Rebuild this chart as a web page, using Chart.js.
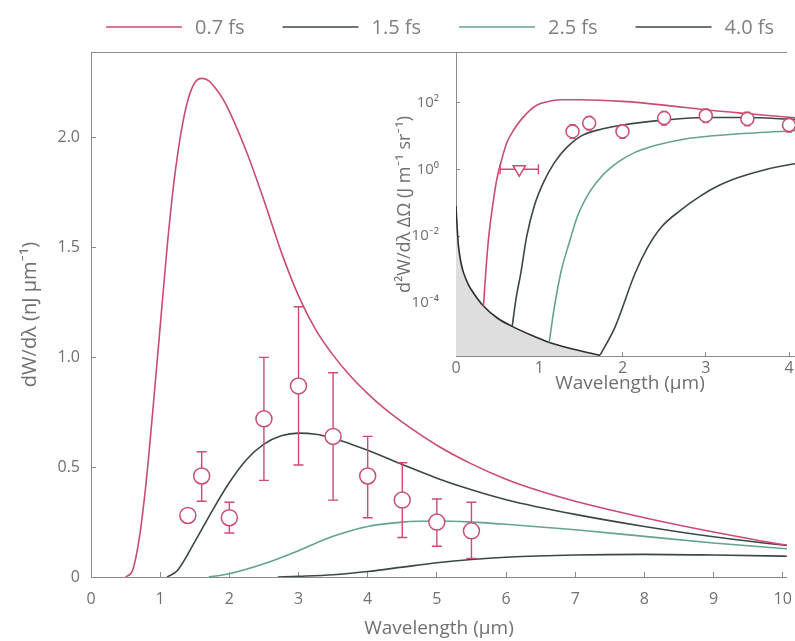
<!DOCTYPE html>
<html>
<head>
<meta charset="utf-8">
<script src="https://cdn.jsdelivr.net/npm/chart.js@4.4.1/dist/chart.umd.min.js"></script>
<style>
  html, body { margin: 0; padding: 0; background: #fff; overflow: hidden; }
  #page { position: relative; width: 795px; height: 641px; overflow: hidden; }
  #main { position: absolute; left: 0; top: 0; }
  #inset { position: absolute; left: 380px; top: 40px; }
</style>
</head>
<body>
<div id="page">
  <canvas id="main" width="810" height="641"></canvas>
  <canvas id="inset" width="440" height="360"></canvas>
</div>
<script>
// ---- main panel: dW/dλ (nJ µm^-1) against wavelength (µm) ----
const seriesLabels = ['0.7 fs', '1.5 fs', '2.5 fs', '4.0 fs'];

const wl07 = [0.5, 0.6, 0.7, 0.8, 0.9, 1.0, 1.1, 1.2, 1.3, 1.4, 1.5, 1.6, 1.7, 1.8, 1.9, 2.0, 2.25, 2.5, 2.75, 3.0, 3.25, 3.5, 3.75, 4.0, 4.25, 4.5, 5.0, 5.5, 6.0, 6.5, 7.0, 8.0, 9.0, 10.0, 10.5];
const dw07 = [0, 0.03, 0.18, 0.44, 0.78, 1.14, 1.50, 1.80, 2.02, 2.17, 2.25, 2.27, 2.26, 2.225, 2.18, 2.12, 1.935, 1.715, 1.48, 1.28, 1.125, 1.01, 0.915, 0.835, 0.765, 0.705, 0.60, 0.515, 0.445, 0.39, 0.345, 0.27, 0.205, 0.148, 0.133];

const wl15 = [1.1, 1.25, 1.5, 1.75, 2.0, 2.25, 2.5, 2.75, 3.0, 3.25, 3.5, 3.75, 4.0, 4.5, 5.0, 5.5, 6.0, 7.0, 8.0, 9.0, 10.0, 10.5];
const dw15 = [0, 0.03, 0.16, 0.30, 0.43, 0.535, 0.605, 0.643, 0.655, 0.65, 0.632, 0.606, 0.577, 0.512, 0.45, 0.397, 0.352, 0.285, 0.23, 0.183, 0.146, 0.133];

const wl25 = [1.7, 2.0, 2.5, 3.0, 3.5, 4.0, 4.5, 5.0, 5.5, 6.0, 7.0, 8.0, 9.0, 10.0, 10.5];
const dw25 = [0, 0.015, 0.06, 0.12, 0.185, 0.23, 0.25, 0.255, 0.25, 0.24, 0.215, 0.185, 0.155, 0.13, 0.12];

const wl40 = [2.7, 3.0, 3.5, 4.0, 4.5, 5.0, 5.5, 6.0, 7.0, 8.0, 9.0, 10.0, 10.5];
const dw40 = [0, 0.003, 0.01, 0.025, 0.045, 0.065, 0.08, 0.09, 0.10, 0.103, 0.10, 0.095, 0.092];

// measured points with vertical error bars
const measX  = [1.4, 1.6, 2.0, 2.5, 3.0, 3.5, 4.0, 4.5, 5.0, 5.5];
const measY  = [0.28, 0.46, 0.27, 0.72, 0.87, 0.64, 0.46, 0.35, 0.25, 0.21];
const measLo = [null, 0.345, 0.20, 0.44, 0.51, 0.35, 0.27, 0.18, 0.14, 0.085];
const measHi = [null, 0.57, 0.34, 1.00, 1.23, 0.93, 0.64, 0.52, 0.355, 0.34];

const mainXTicks = [0, 1, 2, 3, 4, 5, 6, 7, 8, 9, 10];
const mainYTicks = [0, 0.5, 1.0, 1.5, 2.0];

// ---- inset: d²W/dλ ΔΩ (J m^-1 sr^-1), log scale ----
const inX07 = [0.33, 0.36, 0.39, 0.44, 0.49, 0.55, 0.61, 0.7, 0.78, 0.88, 0.98, 1.1, 1.26, 1.5, 2.0, 2.5, 3.0, 3.5, 4.0, 4.3];
const inY07 = [8e-5, 1e-3, 8e-3, 0.08, 0.5, 2.0, 6.2, 16, 30, 56, 85, 105, 120, 120, 107, 83, 60, 46, 36, 32];

const inX15 = [0.675, 0.72, 0.78, 0.85, 0.94, 1.05, 1.18, 1.33, 1.5, 1.75, 2.0, 2.5, 3.0, 3.5, 4.0, 4.3];
const inY15 = [2e-5, 1.3e-4, 8.3e-4, 0.01, 0.08, 0.4, 1.55, 4.5, 9.8, 16, 21, 29.5, 35.5, 35.5, 31.6, 29.5];

const inX25 = [1.12, 1.17, 1.26, 1.36, 1.46, 1.6, 1.75, 1.95, 2.15, 2.4, 2.72, 3.0, 3.4, 4.0, 4.3];
const inY25 = [6.6e-6, 5e-5, 8.3e-4, 6.3e-3, 0.04, 0.2, 0.62, 1.66, 3.2, 5.2, 7.8, 9.5, 11.5, 14, 15.1];

const inX40 = [1.73, 1.91, 2.15, 2.3, 2.47, 2.7, 2.92, 3.15, 3.4, 3.7, 4.09, 4.3];
const inY40 = [2.75e-6, 1.9e-5, 7.6e-4, 4.5e-3, 0.019, 0.06, 0.15, 0.32, 0.575, 0.955, 1.5, 1.82];

// background curve, shaded underneath
const bgX = [0, 0.015, 0.03, 0.06, 0.09, 0.15, 0.21, 0.33, 0.5, 0.675, 0.9, 1.12, 1.4, 1.73];
const bgY = [0.079, 0.016, 5e-3, 1.6e-3, 8.1e-4, 3.5e-4, 2e-4, 8.1e-5, 3.5e-5, 2e-5, 1.1e-5, 6.6e-6, 4.2e-6, 2.75e-6];

const insMeasX  = [1.4, 1.6, 2.0, 2.5, 3.0, 3.5, 4.0];
const insMeasY  = [13.5, 24, 13.5, 34, 40, 32, 21];
const insMeasLo = [8.4, 15, 8.4, 21, 25, 20, 13];
const insMeasHi = [21.6, 38, 21.6, 54, 64, 51, 34];

const triX = [0.76];
const triY = [1.0];
const triXLo = [0.53];
const triXHi = [0.99];

const insetXTicks = [0, 1, 2, 3, 4];
const insetYTicks = [1e-4, 1e-2, 1, 1e2];
const insetYLabels = ['10⁻⁴', '10⁻²', '10⁰', '10²'];

const RED = '#c94d70';
const DARK = '#3c4747';
const TEAL = '#64a293';
const TEXT = '#707070';
const AXIS = '#8a8a8a';
const FONT = '"Open Sans", Lato, sans-serif';

function pts(xs, ys) {
    return xs.map((x, i) => ({ x: x, y: ys[i] }));
}

// error bars drawn just before the markers so the white circles sit on top
const errorBars = {
    id: 'errorBars',
    beforeDatasetDraw(chart, args) {
        const ds = chart.data.datasets[args.index];
        if (!ds.yLow && !ds.xLow) return;
        const xs = chart.scales[args.meta.xAxisID];
        const ys = chart.scales[args.meta.yAxisID];
        const ctx = chart.ctx;
        const cap = ds.capWidth || 5;
        ctx.save();
        ctx.strokeStyle = ds.borderColor;
        ctx.lineWidth = ds.errWidth || 1.4;
        ds.data.forEach((p, i) => {
            const px = xs.getPixelForValue(p.x);
            const py = ys.getPixelForValue(p.y);
            ctx.beginPath();
            if (ds.yLow && ds.yLow[i] != null) {
                const y1 = ys.getPixelForValue(ds.yLow[i]);
                const y2 = ys.getPixelForValue(ds.yHigh[i]);
                ctx.moveTo(px, y1); ctx.lineTo(px, y2);
                ctx.moveTo(px - cap, y1); ctx.lineTo(px + cap, y1);
                ctx.moveTo(px - cap, y2); ctx.lineTo(px + cap, y2);
            }
            if (ds.xLow && ds.xLow[i] != null) {
                const x1 = xs.getPixelForValue(ds.xLow[i]);
                const x2 = xs.getPixelForValue(ds.xHigh[i]);
                ctx.moveTo(x1, py); ctx.lineTo(x2, py);
                ctx.moveTo(x1, py - cap); ctx.lineTo(x1, py + cap);
                ctx.moveTo(x2, py - cap); ctx.lineTo(x2, py + cap);
            }
            ctx.stroke();
        });
        ctx.restore();
    }
};

// legend row above the frame: line sample + label, fixed pitch
const lineLegend = {
    id: 'lineLegend',
    afterDraw(chart, args, opts) {
        const ctx = chart.ctx;
        ctx.save();
        ctx.font = opts.font;
        ctx.textBaseline = 'middle';
        ctx.fillStyle = opts.color;
        let i = 0;
        chart.data.datasets.forEach(ds => {
            if (!ds.inLegend) return;
            const x = opts.x + i * opts.pitch;
            ctx.strokeStyle = ds.borderColor;
            ctx.lineWidth = 1.3;
            ctx.beginPath();
            ctx.moveTo(x, opts.y);
            ctx.lineTo(x + opts.lineLength, opts.y);
            ctx.stroke();
            ctx.fillText(ds.label, x + opts.lineLength + opts.gap, opts.y + 1);
            i++;
        });
        ctx.restore();
    }
};

const whiteArea = {
    id: 'whiteArea',
    beforeDraw(chart) {
        const a = chart.chartArea;
        chart.ctx.save();
        chart.ctx.fillStyle = '#fff';
        chart.ctx.fillRect(a.left, a.top, a.right - a.left, a.bottom - a.top);
        chart.ctx.restore();
    }
};

function curve(label, xs, ys, color, legend) {
    return {
        label: label,
        data: pts(xs, ys),
        borderColor: color,
        borderWidth: 1.6,
        pointRadius: 0,
        fill: false,
        cubicInterpolationMode: 'monotone',
        inLegend: legend
    };
}

function keepTicks(list) {
    return scale => {
        scale.ticks = list.map(v => ({ value: v }));
    };
}

new Chart(document.getElementById('main'), {
    type: 'line',
    data: {
        datasets: [
            {
                label: 'measured',
                data: pts(measX, measY),
                showLine: false,
                pointStyle: 'circle',
                pointRadius: 8,
                pointBorderWidth: 1.5,
                borderColor: RED,
                pointBackgroundColor: '#fff',
                yLow: measLo,
                yHigh: measHi,
                capWidth: 5
            },
            curve(seriesLabels[0], wl07, dw07, RED, true),
            curve(seriesLabels[1], wl15, dw15, DARK, true),
            curve(seriesLabels[2], wl25, dw25, TEAL, true),
            curve(seriesLabels[3], wl40, dw40, DARK, true)
        ]
    },
    options: {
        responsive: false,
        animation: false,
        layout: { padding: { left: 18, right: 15, top: 52, bottom: 1 } },
        plugins: {
            legend: { display: false },
            tooltip: { enabled: false },
            lineLegend: { x: 106, y: 27, pitch: 176.5, lineLength: 76, gap: 13, font: '20px ' + FONT, color: '#808080' }
        },
        scales: {
            x: {
                type: 'linear', min: 0, max: 10.06,
                afterBuildTicks: keepTicks(mainXTicks),
                afterFit: s => { s.height = 63; },
                grid: { drawOnChartArea: false, tickLength: -5, color: AXIS },
                border: { color: AXIS },
                ticks: { color: TEXT, font: { family: FONT, size: 16 }, padding: 18, maxRotation: 0 },
                title: { display: true, text: 'Wavelength (µm)', color: TEXT, font: { family: FONT, size: 19 }, padding: 0 }
            },
            xTop: {
                type: 'linear', position: 'top', min: 0, max: 10.06,
                afterFit: s => { s.height = 0; },
                grid: { drawOnChartArea: false, drawTicks: false },
                border: { color: AXIS },
                ticks: { display: false }
            },
            y: {
                type: 'linear', min: 0, max: 2.39,
                afterBuildTicks: keepTicks(mainYTicks),
                afterFit: s => { s.width = 73; },
                grid: { drawOnChartArea: false, tickLength: -5, color: AXIS },
                border: { color: AXIS },
                ticks: {
                    color: TEXT, font: { family: FONT, size: 16 }, padding: 16,
                    callback: v => v === 0 ? '0' : v.toFixed(1)
                },
                title: { display: true, text: 'dW/dλ (nJ µm⁻¹)', color: TEXT, font: { family: FONT, size: 20 }, padding: 0 }
            }
        }
    },
    plugins: [errorBars, lineLegend]
});

new Chart(document.getElementById('inset'), {
    type: 'line',
    data: {
        datasets: [
            {
                label: 'measured',
                data: pts(insMeasX, insMeasY),
                showLine: false,
                pointStyle: 'circle',
                pointRadius: 6.5,
                pointBorderWidth: 1.5,
                borderColor: RED,
                pointBackgroundColor: '#fff',
                yLow: insMeasLo,
                yHigh: insMeasHi,
                capWidth: 3
            },
            {
                label: 'lower limit',
                data: pts(triX, triY),
                showLine: false,
                pointStyle: 'triangle',
                rotation: 180,
                pointRadius: 7,
                pointBorderWidth: 1.5,
                borderColor: RED,
                pointBackgroundColor: '#fff',
                xLow: triXLo,
                xHigh: triXHi,
                capWidth: 5
            },
            curve(seriesLabels[0], inX07, inY07, RED, false),
            curve(seriesLabels[1], inX15, inY15, DARK, false),
            curve(seriesLabels[2], inX25, inY25, TEAL, false),
            curve(seriesLabels[3], inX40, inY40, DARK, false),
            {
                label: 'background',
                data: pts(bgX, bgY),
                borderColor: '#2e2e2e',
                borderWidth: 1.6,
                backgroundColor: '#dedede',
                pointRadius: 0,
                fill: 'start',
                cubicInterpolationMode: 'monotone'
            }
        ]
    },
    options: {
        responsive: false,
        animation: false,
        layout: { padding: { left: 14, right: 16, top: 13, bottom: 5 } },
        plugins: { legend: { display: false }, tooltip: { enabled: false } },
        scales: {
            x: {
                type: 'linear', min: 0, max: 4.18,
                afterBuildTicks: keepTicks(insetXTicks),
                afterFit: s => { s.height = 39; },
                grid: { drawOnChartArea: false, tickLength: -4, color: AXIS },
                border: { color: AXIS },
                ticks: { color: TEXT, font: { family: FONT, size: 16 }, padding: 7, maxRotation: 0 },
                title: { display: true, text: 'Wavelength (µm)', color: TEXT, font: { family: FONT, size: 19 }, padding: 0 }
            },
            y: {
                type: 'logarithmic', min: 2.6e-6, max: 3000,
                afterBuildTicks: keepTicks(insetYTicks),
                afterFit: s => { s.width = 62; s.paddingTop = 0; s.paddingBottom = 0; },
                grid: { drawOnChartArea: false, tickLength: -4, color: AXIS },
                border: { color: AXIS },
                ticks: {
                    color: TEXT, font: { family: FONT, size: 15 }, padding: 21,
                    callback: v => insetYLabels[insetYTicks.indexOf(v)]
                },
                title: { display: true, text: 'd²W/dλ ΔΩ (J m⁻¹ sr⁻¹)', color: TEXT, font: { family: FONT, size: 18 }, padding: 0 }
            }
        }
    },
    plugins: [whiteArea, errorBars]
});
</script>
</body>
</html>
